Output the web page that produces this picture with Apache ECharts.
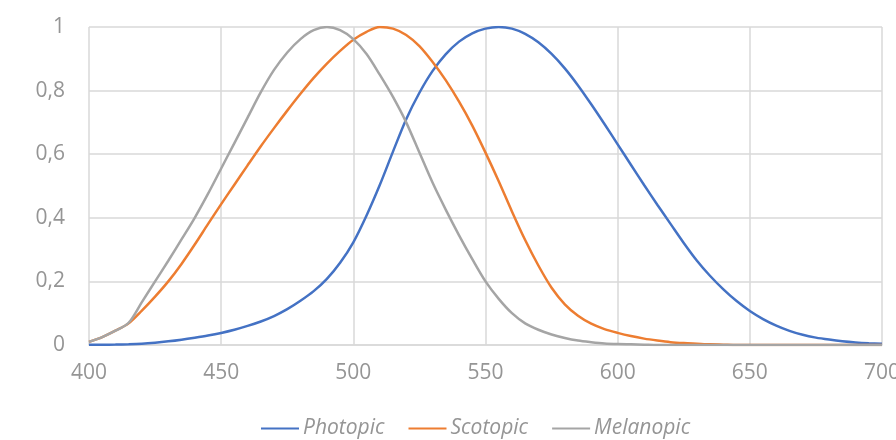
<!DOCTYPE html>
<html>
<head>
<meta charset="utf-8">
<script src="https://cdn.jsdelivr.net/npm/echarts@6/dist/echarts.min.js"></script>
<style>
html,body{margin:0;padding:0;background:#fff;}
#c{width:896px;height:440px;}
</style>
</head>
<body>
<div id="c"></div>
<script>
var wavelengths = [400,405,410,415,420,425,430,435,440,445,450,455,460,465,470,475,480,485,490,495,500,505,510,515,520,525,530,535,540,545,550,555,560,565,570,575,580,585,590,595,600,605,610,615,620,625,630,635,640,645,650,655,660,665,670,675,680,685,690,695,700];

var photopic = [0.0004,0.00064,0.0012,0.00218,0.004,0.0073,0.0116,0.01684,0.023,0.0298,0.038,0.048,0.06,0.0739,0.09098,0.1126,0.13902,0.1693,0.20802,0.2586,0.323,0.4073,0.503,0.6082,0.71,0.7932,0.862,0.91485,0.954,0.9803,0.99495,1.0,0.995,0.9786,0.952,0.9154,0.87,0.8163,0.757,0.6949,0.631,0.5668,0.503,0.4412,0.381,0.321,0.265,0.217,0.175,0.1382,0.107,0.0816,0.061,0.04458,0.032,0.0232,0.017,0.01192,0.00821,0.005723,0.004102];

var scotopic = [0.01,0.025,0.045,0.068,0.108,0.152,0.2,0.255,0.316,0.38,0.443,0.504,0.565,0.625,0.682,0.737,0.79,0.84,0.885,0.925,0.96,0.985,1.0,0.995,0.975,0.94,0.89,0.832,0.765,0.69,0.605,0.515,0.42,0.33,0.25,0.18,0.128,0.092,0.067,0.05,0.038,0.028,0.02,0.014,0.009,0.006,0.004,0.002,0.001,0,0,0,0,0,0,0,0,0,0,0,0];

var melanopic = [0.01,0.025,0.045,0.07,0.135,0.2,0.265,0.332,0.4,0.475,0.555,0.635,0.715,0.795,0.865,0.92,0.962,0.99,1.0,0.99,0.962,0.915,0.85,0.78,0.7,0.605,0.51,0.425,0.345,0.27,0.2,0.145,0.1,0.068,0.048,0.033,0.022,0.014,0.009,0.005,0.003,0.002,0.001,0,0,0,0,0,0,0,0,0,0,0,0,0,0,0,0,0,0];

var xTicks = {min: 400, max: 700, step: 50};
var yTicks = {min: 0, max: 1, step: 0.2};
var seriesNames = ['Photopic', 'Scotopic', 'Melanopic'];

function pairs(vals){ return wavelengths.map(function(w,i){ return [w, vals[i]]; }); }

var labelColor = '#959595';
var gridColor = '#d9d9d9';
var font = '"Open Sans", "Noto Sans", sans-serif';

var chart = echarts.init(document.getElementById('c'), null, {renderer: 'canvas'});
chart.setOption({
  animation: false,
  backgroundColor: '#ffffff',
  color: ['#4472C4', '#ED7D31', '#A5A5A5'],
  grid: {left: 89, right: 14, top: 27, bottom: 95, containLabel: false, outerBoundsMode: 'none'},
  legend: {
    data: seriesNames,
    left: 256,
    top: 413,
    itemWidth: 38,
    itemHeight: 2,
    itemGap: 24,
    icon: 'rect',
    textStyle: {color: labelColor, fontSize: 21, fontStyle: 'italic', fontFamily: font, padding: [0,0,0,-1]}
  },
  xAxis: {
    type: 'value',
    min: xTicks.min, max: xTicks.max, interval: xTicks.step,
    axisLine: {show: true, lineStyle: {color: gridColor, width: 1.5}},
    axisTick: {show: false},
    axisLabel: {color: labelColor, fontSize: 21, fontFamily: font, margin: 18},
    splitLine: {show: true, lineStyle: {color: gridColor, width: 1.5}}
  },
  yAxis: {
    type: 'value',
    min: yTicks.min, max: yTicks.max, interval: yTicks.step,
    axisLine: {show: false},
    axisTick: {show: false},
    axisLabel: {
      color: labelColor, fontSize: 21, fontFamily: font, margin: 24,
      formatter: function(v){ return String(Math.round(v*10)/10).replace('.', ','); }
    },
    splitLine: {show: true, lineStyle: {color: gridColor, width: 1.5}}
  },
  series: [
    {name: seriesNames[0], type: 'line', data: pairs(photopic), showSymbol: false, smooth: 0.3, lineStyle: {width: 2.5}},
    {name: seriesNames[1], type: 'line', data: pairs(scotopic), showSymbol: false, smooth: 0.3, lineStyle: {width: 2.5}},
    {name: seriesNames[2], type: 'line', data: pairs(melanopic), showSymbol: false, smooth: 0.3, lineStyle: {width: 2.5}}
  ]
});
</script>
</body>
</html>
